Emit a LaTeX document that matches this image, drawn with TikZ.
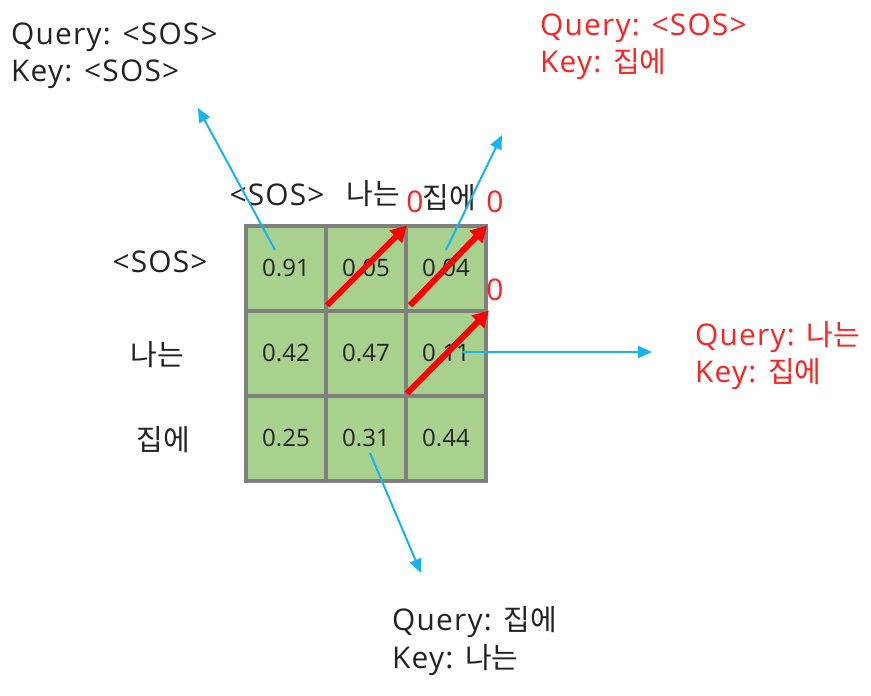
\documentclass[tikz,border=0pt]{standalone}
\usepackage{fontspec}
\setmainfont{Open Sans}[Scale=1.03,LetterSpace=4]
\newfontfamily\kr{Noto Sans CJK KR}
\newfontfamily\numfont{Open Sans}
\usetikzlibrary{arrows.meta,calc}
\definecolor{cellgreen}{HTML}{A9D18E}
\definecolor{gridgray}{HTML}{7F7F7F}
\definecolor{skyblue}{HTML}{14B4F0}
\definecolor{txtred}{HTML}{FF2020}
\definecolor{txtdark}{HTML}{222222}
\tikzset{
  cell/.style={draw=gridgray, line width=4pt, fill=cellgreen, minimum width=80pt, minimum height=85pt, inner sep=0pt, text=txtdark, font=\numfont\fontsize{24}{28}\selectfont},
  lbl/.style={inner sep=0pt, text=txtdark, font=\fontsize{29}{34}\selectfont},
  redlbl/.style={inner sep=0pt, text=txtred, font=\fontsize{29}{34}\selectfont},
  bluearrow/.style={draw=skyblue, line width=2pt, -{Triangle[length=14pt,width=12pt]}},
  redarrow/.style={draw=red, line width=6pt, -{Triangle[length=16pt,width=17pt]}},
}
\begin{document}
\begin{tikzpicture}[x=1pt,y=-1pt]
\useasboundingbox (0,0) rectangle (871,696);
% grid
\node[cell] (c11) at (286,268) {0.91};
\node[cell] (c12) at (366,268) {0.05};
\node[cell] (c13) at (446,268) {0.04};
\node[cell] (c21) at (286,353) {0.42};
\node[cell] (c22) at (366,353) {0.47};
\node[cell] (c23) at (446,353) {0.11};
\node[cell] (c31) at (286,438) {0.25};
\node[cell] (c32) at (366,438) {0.31};
\node[cell] (c33) at (446,438) {0.44};
% headers
\node[lbl, anchor=base] (h1) at (277,205) {<SOS>};
\node[lbl, anchor=base] (h2) at (373,204) {\kr 나는};
\node[lbl, anchor=base] (h3) at (449,208) {\kr 집에};
\node[lbl, anchor=base] (r1) at (160,272) {<SOS>};
\node[lbl, anchor=base] (r2) at (157,365) {\kr 나는};
\node[lbl, anchor=base] (r3) at (163,450) {\kr 집에};
% red zeros
\node[redlbl, anchor=base] (z1) at (415,212) {0};
\node[redlbl, anchor=base] (z2) at (495,212) {0};
\node[redlbl, anchor=base] (z3) at (495,300) {0};
% annotation texts
\node[lbl, anchor=base west] (t1a) at (11,45) {Query: <SOS>};
\node[lbl, anchor=base west] (t1b) at (11,81) {Key: <SOS>};
\node[redlbl, anchor=base west] (t2a) at (540,35) {Query: <SOS>};
\node[redlbl, anchor=base west] (t2b) at (540,72) {Key: {\kr 집에}};
\node[redlbl, anchor=base west] (t3a) at (695,345) {Query: {\kr 나는}};
\node[redlbl, anchor=base west] (t3b) at (695,382) {Key: {\kr 집에}};
\node[lbl, anchor=base west] (t4a) at (392,630) {Query: {\kr 집에}};
\node[lbl, anchor=base west] (t4b) at (392,668) {Key: {\kr 나는}};
% blue arrow ends
\coordinate (e1) at (198,108);
\coordinate (e2) at (502,135);
\coordinate (e3) at (652,352);
\coordinate (e4) at (421,573);
\draw[bluearrow] ($(c11.center)+(-11,-18)$) -- (e1);
\draw[bluearrow] ($(c13.center)+(0,-18)$) -- (e2);
\draw[bluearrow] ($(c23.center)+(16,-1)$) -- (e3);
\draw[bluearrow] ($(c32.center)+(4,15)$) -- (e4);
% red arrows
\draw[redarrow] ($(c12.south west)+(3,-7)$) -- ($(c12.north east)+(-1,2)$);
\draw[redarrow] ($(c13.south west)+(6,-7)$) -- ($(c13.north east)+(-1,2)$);
\draw[redarrow] ($(c23.south west)+(3,-4)$) -- ($(c23.north east)+(1,2)$);
\end{tikzpicture}
\end{document}
